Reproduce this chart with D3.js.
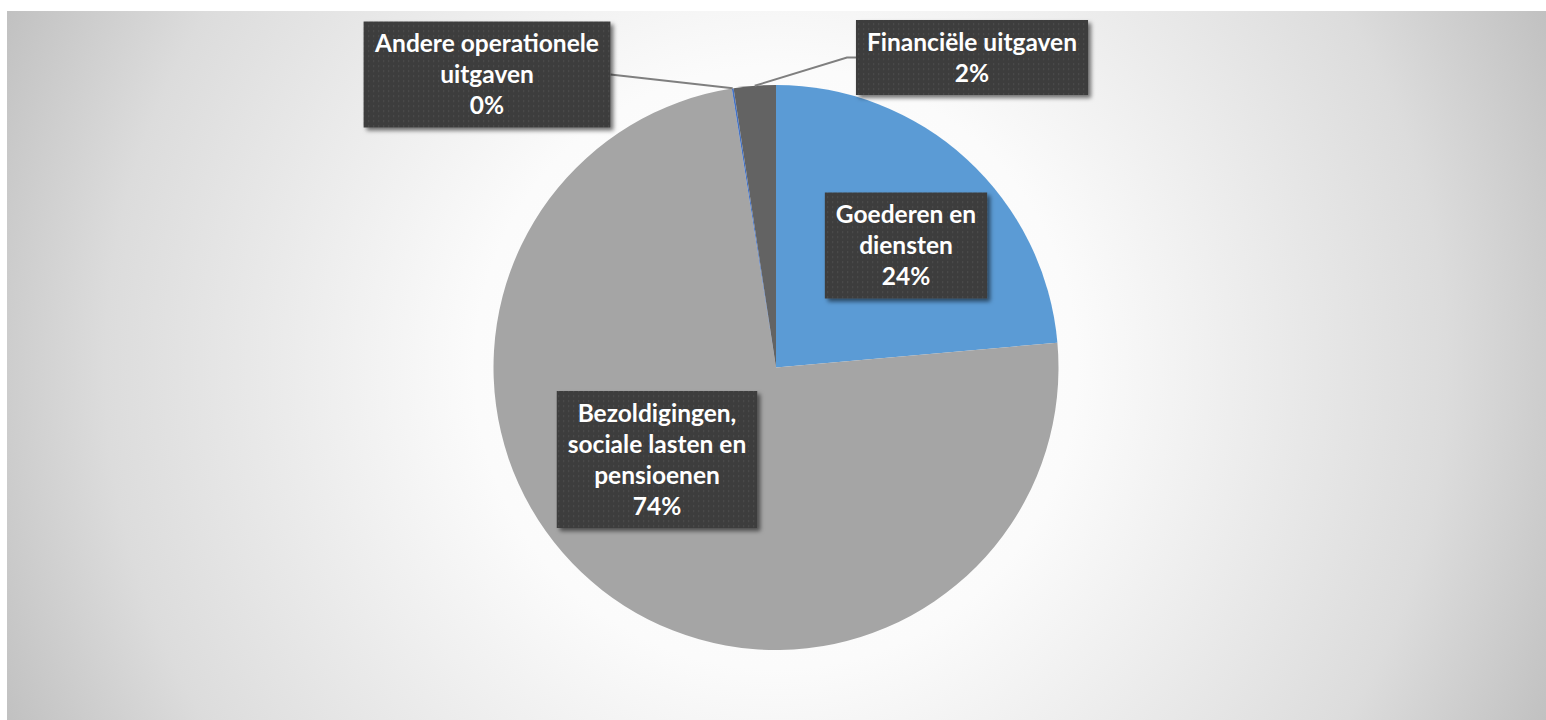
<!DOCTYPE html>
<html>
<head>
<meta charset="utf-8">
<script src="https://cdn.jsdelivr.net/npm/d3@7"></script>
<style>
  html, body { margin: 0; padding: 0; background: #fff; }
  svg { display: block; }
</style>
</head>
<body>
<svg id="chart" width="1546" height="720"></svg>
<script>
// data
var categories = ["Goederen en diensten", "Bezoldigingen, sociale lasten en pensioenen", "Andere operationele uitgaven", "Financiële uitgaven"];
var values = [23.6, 73.9, 0.1, 2.4];
var labelLines = [
    ["Goederen en", "diensten"],
    ["Bezoldigingen,", "sociale lasten en", "pensioenen"],
    ["Andere operationele", "uitgaven"],
    ["Financiële uitgaven"]
];
var colors = ["#5b9bd5", "#a5a5a5", "#4472c4", "#636363"];

// layout
var width = 1546, height = 720;
var cx = 776, cy = 367.5, radius = 282.5;
var lineH = 31;
// label box centres relative to pie centre, and which side the leader enters
var labelLayout = [
    {dx: 130, dy: -122, leader: null},
    {dx: -119, dy: 92, leader: null},
    {dx: -289, dy: -293, leader: "right"},
    {dx: 196, dy: -310, leader: "left"}
];

var svg = d3.select("#chart");
var defs = svg.append("defs");

var grad = defs.append("radialGradient")
    .attr("id", "bg")
    .attr("gradientUnits", "userSpaceOnUse")
    .attr("cx", cx).attr("cy", cy).attr("r", 860);
grad.append("stop").attr("offset", "0").attr("stop-color", "#ffffff");
grad.append("stop").attr("offset", "0.35").attr("stop-color", "#fbfbfb");
grad.append("stop").attr("offset", "0.78").attr("stop-color", "#dcdcdc");
grad.append("stop").attr("offset", "1").attr("stop-color", "#bfbfbf");

var pat = defs.append("pattern")
    .attr("id", "dots")
    .attr("patternUnits", "userSpaceOnUse")
    .attr("width", 5).attr("height", 5);
pat.append("rect").attr("width", 5).attr("height", 5).attr("fill", "#3d3d3d");
pat.append("rect").attr("x", 1).attr("y", 1).attr("width", 1.2).attr("height", 1.2).attr("fill", "#535353");

var shadow = defs.append("filter").attr("id", "shadow")
    .attr("x", "-10%").attr("y", "-10%").attr("width", "130%").attr("height", "140%");
shadow.append("feDropShadow")
    .attr("dx", 3).attr("dy", 3).attr("stdDeviation", 2.2)
    .attr("flood-color", "#000").attr("flood-opacity", 0.55);

svg.append("rect")
    .attr("x", 7).attr("y", 11)
    .attr("width", width - 7).attr("height", height - 11)
    .attr("fill", "url(#bg)");

var pie = d3.pie().sort(null).value(d => d);
var arcs = pie(values);
var arc = d3.arc().innerRadius(0).outerRadius(radius);

var g = svg.append("g").attr("transform", `translate(${cx},${cy})`);

g.selectAll("path.slice")
    .data(arcs)
    .enter()
    .append("path")
    .attr("class", "slice")
    .attr("d", arc)
    .attr("fill", (d, i) => colors[i]);

var total = d3.sum(values);
var fmt = d3.format(".0%");

// leader lines + labels
arcs.forEach(function(a, i) {
    var lay = labelLayout[i];
    var lines = labelLines[i].concat([fmt(values[i] / total)]);

    var lg = g.append("g").attr("transform", `translate(${lay.dx},${lay.dy})`);
    var box = lg.append("rect").attr("fill", "url(#dots)").attr("filter", "url(#shadow)");
    var txt = lg.append("text")
        .attr("text-anchor", "middle")
        .attr("fill", "#ffffff")
        .style("font-family", "Lato, 'Open Sans', sans-serif")
        .style("font-weight", "bold")
        .style("font-size", "24.5px");
    var y0 = -((lines.length - 1) * lineH) / 2;
    lines.forEach(function(l, k) {
        txt.append("tspan")
            .attr("x", 0)
            .attr("y", y0 + k * lineH)
            .attr("dy", "0.35em")
            .text(l);
    });
    var tw = txt.node().getBBox().width;
    var bw = tw + 22, bh = lines.length * lineH + 13;
    box.attr("x", -bw / 2).attr("y", -bh / 2).attr("width", bw).attr("height", bh);

    if (lay.leader) {
        var mid = (a.startAngle + a.endAngle) / 2;
        var px = Math.sin(mid) * radius, py = -Math.cos(mid) * radius;
        var pts;
        if (lay.leader === "right") {
            pts = [[px, py], [lay.dx + bw / 2, lay.dy]];
        } else {
            var bx = lay.dx - bw / 2;
            pts = [[px, py], [bx - 9, lay.dy], [bx, lay.dy]];
        }
        g.insert("path", "g")
            .attr("d", d3.line()(pts))
            .attr("fill", "none")
            .attr("stroke", "#7f7f7f")
            .attr("stroke-width", 2);
    }
});
</script>
</body>
</html>
